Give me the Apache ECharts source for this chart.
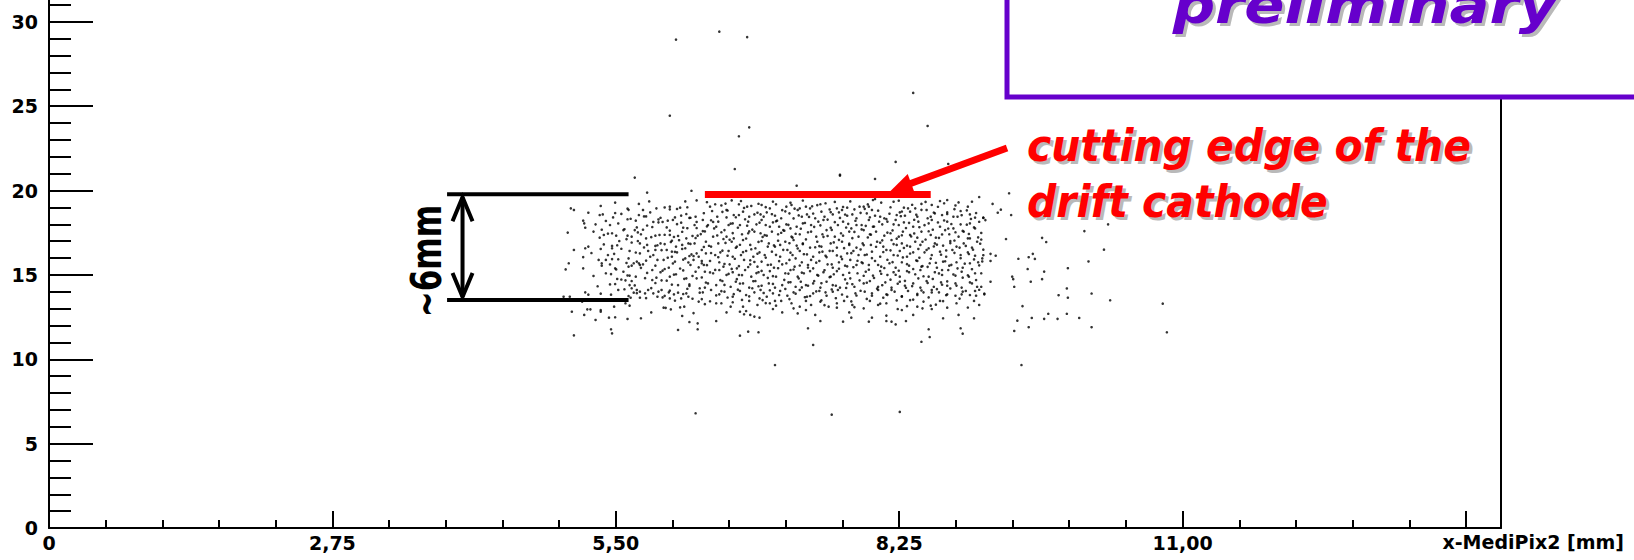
<!DOCTYPE html>
<html><head><meta charset="utf-8">
<script src="https://cdn.jsdelivr.net/npm/echarts@6/dist/echarts.min.js"></script>
<style>html,body{margin:0;padding:0;background:#fff}#c{width:1634px;height:560px}</style>
</head><body><div id="c"></div>
<script>
// x-MediPix2 [mm] , y [mm]
const clusterLeft = [[5.68,20.77],[6.23,19.99],[5.80,19.88],[5.82,19.36],[6.17,19.36],[6.28,19.42],[5.06,18.95],[5.09,18.85],[5.35,19.09],[5.49,19.29],[5.61,18.93],[5.72,19.21],[6.02,19.05],[6.02,18.89],[6.12,18.99],[6.19,19.01],[5.76,18.85],[5.89,18.95],
[5.23,18.69],[5.34,18.55],[5.37,18.59],[5.49,18.67],[5.72,18.55],[5.79,18.47],[5.91,18.29],[5.93,18.39],[6.07,18.41],[6.18,18.61],[6.27,18.45],
[5.18,18.22],[5.19,18.06],[5.30,18.00],[5.40,18.20],[5.47,18.41],[5.44,17.96],[5.61,18.30],[5.69,18.22],[5.86,18.14],[5.95,18.14],[6.00,18.22],[6.13,18.10],[6.21,18.38],[6.28,18.14],
[5.20,17.80],[5.36,17.68],[5.70,17.82],[5.68,17.66],[5.76,17.68],[5.99,17.82],[6.15,17.80],[6.28,17.78],
[5.03,17.51],[5.28,17.57],[5.34,17.21],[5.38,17.37],[5.46,17.47],[5.50,17.33],[5.57,17.66],[5.61,17.33],[5.65,17.27],[5.74,17.41],[5.79,17.17],[5.88,17.33],[5.92,17.37],[6.02,17.37],[6.06,17.25],[6.10,17.31],[6.18,17.17],[6.24,17.31],[6.29,17.33],
[5.53,17.01],[5.46,16.58],[5.46,16.72],[5.71,17.01],[5.73,16.87],[5.80,16.78],[5.88,16.72],[5.93,16.87],[5.97,16.83],[6.04,17.03],[6.08,16.68],[6.14,16.78],[6.20,16.87],[6.26,16.87],
[5.09,16.48],[5.20,16.58],[5.23,16.68],[5.26,16.30],[5.35,16.54],[5.42,16.18],[5.51,16.76],[5.63,16.42],[5.73,16.28],[5.81,16.42],[5.88,16.48],[5.99,16.48],[6.04,16.38],[6.09,16.34],[6.14,16.54],[6.21,16.12],[6.25,16.12],[6.28,16.28],
[5.18,16.06],[5.33,15.89],[5.36,15.69],[5.36,15.55],[5.40,15.89],[5.46,15.94],[5.62,15.98],[5.70,15.79],[5.72,15.69],[5.73,15.59],[5.76,15.63],[5.65,15.55],[5.83,16.08],[5.90,15.89],[5.96,15.89],[6.04,16.08],[6.07,15.79],[6.17,15.98],[6.25,15.89],[6.30,16.08],
[5.04,15.69],[5.01,15.33],[5.18,15.39],[5.49,15.39],[5.57,15.19],[5.62,15.49],[5.67,15.69],[5.85,15.29],[5.93,15.16],[5.97,15.35],[6.01,15.43],[6.08,15.04],[6.15,15.27],[6.22,15.59],[6.27,15.19],
[5.28,14.94],[5.40,15.10],[5.51,14.76],[5.63,14.96],[5.69,14.90],[5.65,14.64],[5.85,14.70],[5.89,14.84],[5.94,14.68],[6.02,14.90],[6.10,14.40],[6.18,14.80],[6.21,14.44],[6.28,14.80],
[5.32,14.33],[5.44,14.44],[5.59,14.68],[5.63,14.40],[5.65,14.21],[5.67,13.95],[5.70,14.11],[5.73,14.01],[5.78,13.91],[5.81,14.11],[5.86,13.91],[5.91,14.01],[5.94,14.11],[6.01,13.97],[6.06,13.85],[6.10,13.95],[6.18,13.91],[6.31,14.21],
[5.20,13.97],[5.23,13.83],[5.35,13.89],[5.52,14.11],[5.62,13.75],[5.64,13.65],[5.73,13.65],[5.90,13.71],[5.95,13.67],[6.02,13.61],[6.13,13.61],[6.20,13.71],[6.30,13.42],
[4.99,13.71],[5.05,13.71],[5.17,13.42],[5.59,13.32],
[5.07,12.82],[5.22,12.96],[5.25,12.96],[5.35,12.92],[5.35,12.82],[5.48,13.12],[5.84,12.78],[5.96,13.06],[6.03,12.96],[6.12,13.08],[6.16,13.12],
[5.19,12.63],[5.30,12.33],[5.43,12.47],[5.49,12.49],[5.61,12.39],[5.74,12.43],[6.14,12.57],[6.21,12.21],[6.25,12.74],[6.29,12.13],
[5.45,11.78],[5.46,11.54],[5.09,11.42],[6.10,11.74],[6.29,11.78]];

const clusterMid = [[7.25,20.29],[7.67,20.89],
[6.46,19.19],[6.56,19.23],[6.62,19.42],[6.69,19.19],[6.77,19.05],[6.81,19.09],[6.91,19.15],[6.99,18.95],[7.05,19.19],[7.15,19.05],[7.20,19.15],[7.28,18.95],[7.34,19.05],[7.38,18.95],[7.48,19.19],[7.53,19.25],[7.64,18.95],[7.69,18.85],[7.74,18.99],[7.81,18.89],[7.86,19.05],
[6.43,18.79],[6.48,18.45],[6.57,18.85],[6.64,18.55],[6.66,18.42],[6.73,18.75],[6.79,18.45],[6.84,18.59],[6.90,18.59],[6.96,18.71],[7.04,18.51],[7.10,18.36],[7.18,18.65],[7.26,18.85],[7.30,18.45],[7.35,18.59],[7.43,18.36],[7.49,18.75],[7.52,18.45],[7.60,18.59],[7.66,18.71],[7.74,18.51],[7.79,18.59],[7.83,18.36],
[6.34,18.26],[6.39,17.96],[6.47,17.86],[6.49,18.16],[6.59,17.96],[6.63,18.06],[6.70,17.96],[6.78,18.16],[6.86,18.00],[6.91,18.26],[6.95,17.96],[7.02,18.12],[7.08,17.86],[7.15,18.00],[7.19,17.76],[7.25,17.86],[7.31,18.06],[7.39,17.96],[7.46,18.16],[7.51,18.26],[7.58,17.80],[7.65,17.96],[7.70,18.16],[7.78,17.76],[7.83,17.96],
[6.34,17.60],[6.36,17.58],[6.45,17.76],[6.52,17.53],[6.57,17.27],[6.64,17.17],[6.72,17.41],[6.78,17.47],[6.84,17.57],[6.90,17.47],[6.96,17.33],[7.01,17.57],[7.07,17.41],[7.12,17.66],[7.20,17.27],[7.28,17.41],[7.36,17.53],[7.44,17.27],[7.50,17.41],[7.54,17.66],[7.62,17.27],[7.70,17.33],[7.76,17.57],[7.85,17.27],
[6.37,16.97],[6.42,16.68],[6.49,16.87],[6.54,17.13],[6.62,16.97],[6.67,16.68],[6.73,17.07],[6.80,16.78],[6.85,16.58],[6.91,17.01],[6.98,16.87],[7.04,16.68],[7.09,16.78],[7.14,16.97],[7.22,17.07],[7.25,16.74],[7.31,16.87],[7.38,16.62],[7.45,16.97],[7.49,16.68],[7.58,16.87],[7.64,16.62],[7.69,16.97],[7.76,16.78],[7.83,16.62],
[6.33,16.48],[6.37,16.28],[6.46,16.18],[6.51,16.34],[6.59,16.42],[6.63,16.08],[6.71,16.18],[6.76,16.42],[6.83,16.08],[6.89,16.34],[6.94,16.18],[7.01,16.38],[7.09,16.08],[7.16,16.48],[7.21,16.18],[7.28,16.42],[7.35,16.22],[7.41,16.08],[7.47,16.34],[7.53,16.14],[7.60,16.42],[7.68,16.08],[7.74,16.28],[7.80,16.42],[7.85,16.18],
[6.33,15.69],[6.35,15.59],[6.41,15.83],[6.50,15.75],[6.54,15.49],[6.60,15.63],[6.67,15.39],[6.74,15.89],[6.80,15.63],[6.87,15.49],[6.91,15.79],[6.97,15.59],[7.03,15.43],[7.11,15.63],[7.18,15.89],[7.23,15.49],[7.30,15.75],[7.36,15.59],[7.41,15.39],[7.47,15.83],[7.55,15.63],[7.60,15.43],[7.66,15.75],[7.72,15.55],[7.77,15.89],[7.83,15.59],
[6.36,15.19],[6.44,15.10],[6.50,15.29],[6.57,15.00],[6.63,15.16],[6.69,15.00],[6.75,15.29],[6.81,14.90],[6.88,15.16],[6.93,15.00],[6.99,15.23],[7.05,14.90],[7.14,15.10],[7.19,15.29],[7.26,14.90],[7.32,15.10],[7.38,15.23],[7.45,15.00],[7.51,15.16],[7.58,14.90],[7.64,15.23],[7.70,15.00],[7.77,14.80],[7.84,15.10],
[6.39,14.50],[6.47,14.40],[6.53,14.64],[6.61,14.30],[6.66,14.60],[6.73,14.50],[6.79,14.25],[6.85,14.64],[6.91,14.36],[6.98,14.50],[7.04,14.25],[7.11,14.40],[7.17,14.56],[7.24,14.30],[7.29,14.60],[7.36,14.36],[7.41,14.50],[7.48,14.25],[7.54,14.60],[7.60,14.40],[7.67,14.25],[7.74,14.50],[7.81,14.30],
[6.34,13.97],[6.42,14.11],[6.50,13.85],[6.55,14.01],[6.63,13.71],[6.70,14.05],[6.76,13.81],[6.84,13.97],[6.90,14.11],[6.96,13.71],[7.02,13.91],[7.09,14.05],[7.16,13.77],[7.22,13.97],[7.28,14.11],[7.35,13.71],[7.41,13.91],[7.47,14.05],[7.54,13.77],[7.60,14.01],[7.65,14.11],[7.74,13.71],[7.82,13.91],
[6.33,13.57],[6.47,13.32],[6.52,13.32],[6.63,13.38],[6.73,13.12],[6.79,13.46],[6.87,13.22],[6.92,13.51],[6.99,13.32],[7.05,13.18],[7.10,13.46],[7.20,13.32],[7.28,13.12],[7.34,13.46],[7.39,13.22],[7.48,13.42],[7.56,13.12],[7.64,13.32],[7.71,13.46],[7.79,13.22],
[6.57,12.78],[6.70,12.82],[6.74,12.67],[6.76,12.86],[6.80,12.63],[6.84,12.53],[6.89,12.47],[7.02,12.98],[7.11,12.78],[7.26,12.72],[7.34,12.92],[7.43,12.63],[7.48,12.27],[7.64,13.06],[7.70,12.23],[7.76,12.78],[7.78,12.47],
[6.47,12.27],[6.70,11.40],[6.78,11.64],[6.88,11.60],[7.36,11.84]];

const clusterRight = [[8.01,20.69],[9.02,19.62],[9.31,19.84],[9.15,19.21],[9.20,18.69],[9.23,18.87],[9.33,18.55],[9.28,17.13],[9.40,15.96],[9.18,16.14],[9.13,15.83],[9.34,14.90],[9.36,14.30],[9.39,12.29],[9.36,11.68],[8.53,11.78],[8.54,11.32],[8.46,11.04],[8.84,11.84],[8.86,11.52],
[7.99,19.44],[8.01,19.50],[8.19,19.34],[8.29,18.99],[8.40,18.95],[8.46,19.21],[8.56,19.15],[8.64,19.38],[8.71,19.44],[8.82,19.30],[8.91,19.05],[7.95,19.05],[7.90,19.05],
[7.93,18.65],[7.98,18.85],[8.06,18.45],[8.10,18.36],[8.22,18.55],[8.25,18.71],[8.30,18.51],[8.35,18.75],[8.42,18.45],[8.51,18.85],[8.55,18.45],[8.59,18.65],[8.66,18.55],[8.71,18.71],[8.77,18.45],[8.84,18.79],[8.93,18.59],[8.98,18.40],[9.06,18.40],
[7.88,17.96],[7.95,18.26],[7.99,17.86],[8.08,18.00],[8.13,18.16],[8.21,18.26],[8.24,17.96],[8.29,18.12],[8.38,17.86],[8.43,18.16],[8.53,18.06],[8.56,18.26],[8.64,17.86],[8.71,18.16],[8.77,17.76],[8.84,18.00],[8.93,18.06],[8.98,17.76],
[7.90,17.66],[7.96,17.41],[8.02,17.57],[8.10,17.33],[8.16,17.47],[8.24,17.27],[8.28,17.57],[8.35,17.37],[8.42,17.21],[8.46,17.57],[8.55,17.37],[8.60,17.21],[8.69,17.66],[8.73,17.41],[8.82,17.27],[8.87,17.57],[8.93,17.17],
[7.89,16.87],[7.97,16.78],[8.03,16.97],[8.09,16.68],[8.17,17.07],[8.22,16.78],[8.27,16.87],[8.35,16.68],[8.40,16.97],[8.45,16.78],[8.53,16.58],[8.59,16.87],[8.67,16.74],[8.74,17.01],[8.80,16.68],[8.87,16.87],[8.95,16.62],[9.00,16.97],
[7.91,16.18],[7.98,16.38],[8.06,16.08],[8.12,16.48],[8.19,16.18],[8.25,16.42],[8.32,16.08],[8.38,16.34],[8.44,16.02],[8.51,16.48],[8.56,16.18],[8.64,16.38],[8.70,16.08],[8.76,16.48],[8.84,16.18],[8.91,16.34],[8.98,16.14],[9.05,15.98],
[7.88,15.75],[7.95,15.59],[8.01,15.83],[8.07,15.49],[8.15,15.69],[8.21,15.43],[8.27,15.75],[8.34,15.55],[8.42,15.83],[8.46,15.49],[8.54,15.69],[8.61,15.43],[8.67,15.79],[8.73,15.55],[8.80,15.75],[8.86,15.43],[8.93,15.69],[9.01,15.75],
[7.92,15.19],[7.99,14.96],[8.06,15.23],[8.13,15.00],[8.19,15.16],[8.25,14.90],[8.32,15.23],[8.40,15.04],[8.45,15.29],[8.53,14.90],[8.59,15.16],[8.66,15.00],[8.72,15.29],[8.79,14.96],[8.85,15.19],[8.92,14.90],[8.98,15.10],
[7.90,14.50],[7.96,14.64],[8.04,14.30],[8.11,14.56],[8.17,14.25],[8.25,14.60],[8.30,14.36],[8.38,14.50],[8.45,14.25],[8.51,14.64],[8.58,14.30],[8.65,14.56],[8.71,14.36],[8.79,14.50],[8.85,14.25],[8.93,14.56],[9.00,14.30],
[7.91,14.01],[7.98,13.77],[8.04,14.11],[8.12,13.85],[8.20,14.01],[8.27,13.71],[8.33,14.05],[8.42,13.81],[8.48,13.97],[8.56,14.11],[8.63,13.97],[8.71,13.85],[8.79,13.77],[8.86,14.01],[8.93,13.81],[8.98,14.05],[9.07,13.85],
[7.90,13.02],[7.96,13.46],[8.04,13.22],[8.12,13.32],[8.23,12.98],[8.27,12.92],[8.35,13.51],[8.42,13.12],[8.48,13.42],[8.55,13.18],[8.64,13.46],[8.71,13.06],[8.80,13.32],[8.97,13.46],[9.02,13.22],
[7.95,12.23],[7.98,12.47],[8.12,12.59],[8.12,12.27],[8.17,12.23],[8.21,12.07],[8.31,12.27],[8.38,12.63],[8.47,13.02],[8.56,12.98],[8.67,12.43],[8.82,12.63],[8.97,12.43]];

const coreLayer = [
[6.38,19.31],[6.52,19.12],[6.71,19.38],[6.88,19.22],[7.02,19.35],[7.19,19.28],[7.31,19.41],[7.45,19.14],[7.62,19.33],[7.77,19.36],[7.94,19.18],[8.07,19.29],[8.24,19.40],[8.37,19.16],[8.50,19.33],[8.68,19.25],[8.79,19.12],[8.95,19.34],
[5.62,18.86],[5.97,19.00],[6.09,18.91],[6.41,19.05],[6.58,18.82],[6.74,18.97],[6.95,19.02],[7.11,18.84],[7.23,18.93],[7.40,19.07],[7.57,18.88],[7.70,19.03],[7.91,18.92],[8.04,18.81],[8.16,19.01],[8.33,18.95],[8.46,18.86],[8.62,19.04],[8.78,18.90],[8.90,18.83],
[5.55,18.62],[5.83,18.71],[6.13,18.52],[6.35,18.66],[6.53,18.74],[6.69,18.55],[6.87,18.69],[7.01,18.60],[7.14,18.77],[7.27,18.53],[7.41,18.64],[7.58,18.72],[7.72,18.58],[7.87,18.68],[8.01,18.51],[8.15,18.63],[8.27,18.76],[8.41,18.57],[8.58,18.70],[8.71,18.61],[8.85,18.54],[8.99,18.67],
[5.64,18.33],[5.77,18.47],[6.05,18.26],[6.22,18.39],[6.42,18.24],[6.57,18.41],[6.75,18.30],[6.93,18.46],[7.06,18.22],[7.22,18.35],[7.37,18.44],[7.55,18.28],[7.67,18.38],[7.82,18.21],[7.96,18.42],[8.12,18.31],[8.26,18.48],[8.39,18.27],[8.52,18.36],[8.68,18.23],[8.81,18.45],[8.94,18.32],[9.08,18.25],
[5.52,18.05],[5.80,17.93],[5.91,18.12],[6.09,18.01],[6.26,17.96],[6.44,18.14],[6.61,18.04],[6.77,17.92],[6.89,18.10],[7.05,18.18],[7.17,17.97],[7.33,18.08],[7.48,17.94],[7.62,18.13],[7.75,18.03],[7.92,17.91],[8.05,18.16],[8.19,18.00],[8.34,18.09],[8.49,17.95],[8.62,18.11],[8.75,18.02],[8.90,17.98],[9.02,18.15],
[5.58,17.71],[5.85,17.84],[6.02,17.63],[6.19,17.77],[6.38,17.88],[6.55,17.66],[6.68,17.80],[6.82,17.69],[6.99,17.86],[7.13,17.62],[7.29,17.74],[7.42,17.85],[7.59,17.67],[7.73,17.81],[7.88,17.70],[8.00,17.87],[8.18,17.64],[8.31,17.78],[8.44,17.83],[8.57,17.68],[8.72,17.75],[8.86,17.61],[8.97,17.82],
[5.42,17.45],[5.71,17.52],[5.97,17.38],[6.14,17.56],[6.32,17.42],[6.48,17.34],[6.63,17.48],[6.79,17.58],[6.94,17.36],[7.10,17.50],[7.24,17.44],[7.39,17.57],[7.55,17.31],[7.68,17.47],[7.81,17.55],[7.97,17.39],[8.13,17.51],[8.27,17.35],[8.39,17.46],[8.53,17.59],[8.66,17.40],[8.79,17.53],[8.92,17.43],[9.04,17.49],
[5.60,17.12],[5.84,17.24],[6.11,17.06],[6.27,17.19],[6.44,17.27],[6.60,17.09],[6.76,17.16],[6.92,17.25],[7.07,17.03],[7.21,17.21],[7.34,17.11],[7.51,17.26],[7.66,17.08],[7.79,17.18],[7.94,17.22],[8.08,17.05],[8.22,17.15],[8.36,17.28],[8.50,17.10],[8.63,17.20],[8.78,17.04],[8.91,17.17],[9.01,17.23],
[5.38,16.81],[5.65,16.92],[5.90,16.76],[6.03,16.95],[6.22,16.84],[6.40,16.73],[6.56,16.90],[6.70,16.79],[6.88,16.96],[7.03,16.75],[7.18,16.88],[7.31,16.82],[7.47,16.71],[7.61,16.93],[7.76,16.86],[7.90,16.77],[8.06,16.91],[8.19,16.83],[8.32,16.74],[8.47,16.97],[8.61,16.80],[8.74,16.89],[8.89,16.72],[9.03,16.85],
[5.55,16.55],[5.77,16.63],[5.94,16.47],[6.17,16.58],[6.35,16.66],[6.53,16.44],[6.66,16.61],[6.81,16.52],[6.97,16.68],[7.12,16.49],[7.26,16.57],[7.43,16.64],[7.57,16.43],[7.71,16.59],[7.87,16.51],[8.02,16.67],[8.16,16.46],[8.29,16.60],[8.43,16.54],[8.58,16.69],[8.70,16.45],[8.83,16.62],[8.96,16.50],
[5.48,16.25],[5.69,16.33],[5.86,16.18],[6.07,16.37],[6.23,16.22],[6.42,16.30],[6.58,16.14],[6.73,16.35],[6.87,16.26],[7.05,16.19],[7.19,16.32],[7.32,16.23],[7.50,16.38],[7.64,16.16],[7.78,16.29],[7.93,16.21],[8.09,16.36],[8.23,16.15],[8.35,16.27],[8.49,16.34],[8.65,16.20],[8.78,16.31],[8.92,16.24],[9.06,16.17],
[5.52,15.93],[5.79,15.85],[6.00,16.02],[6.15,15.91],[6.33,15.83],[6.49,16.05],[6.65,15.96],[6.80,15.87],[6.95,16.03],[7.08,15.82],[7.24,15.98],[7.39,15.89],[7.54,16.06],[7.69,15.94],[7.84,15.84],[7.98,16.00],[8.13,15.90],[8.28,16.04],[8.41,15.86],[8.55,15.97],[8.69,15.81],[8.84,15.99],[8.97,15.92],
[5.44,15.62],[5.60,15.71],[5.88,15.55],[6.05,15.68],[6.20,15.74],[6.38,15.58],[6.55,15.65],[6.69,15.52],[6.84,15.77],[7.00,15.61],[7.15,15.69],[7.28,15.56],[7.44,15.73],[7.59,15.63],[7.74,15.51],[7.89,15.70],[8.04,15.59],[8.18,15.76],[8.32,15.64],[8.47,15.53],[8.60,15.72],[8.75,15.60],[8.88,15.67],[9.02,15.57],
[5.50,15.33],[5.74,15.42],[5.95,15.26],[6.12,15.38],[6.30,15.45],[6.46,15.30],[6.62,15.36],[6.78,15.47],[6.91,15.24],[7.07,15.40],[7.22,15.32],[7.36,15.44],[7.52,15.28],[7.66,15.37],[7.80,15.46],[7.95,15.31],[8.10,15.41],[8.24,15.25],[8.38,15.35],[8.52,15.48],[8.66,15.29],[8.81,15.39],[8.95,15.34],
[5.45,15.05],[5.61,14.97],[5.80,15.12],[6.06,15.02],[6.24,14.94],[6.41,15.15],[6.59,15.06],[6.72,14.99],[6.86,15.11],[7.02,14.93],[7.17,15.08],[7.30,15.14],[7.46,14.96],[7.61,15.04],[7.76,15.13],[7.90,14.95],[8.07,15.07],[8.21,15.01],[8.34,15.16],[8.48,14.92],[8.63,15.09],[8.77,15.03],[8.91,14.98],[9.04,15.10],
[5.55,14.73],[5.78,14.81],[5.99,14.66],[6.16,14.77],[6.33,14.85],[6.51,14.69],[6.67,14.75],[6.83,14.63],[6.97,14.83],[7.13,14.71],[7.27,14.79],[7.42,14.64],[7.57,14.87],[7.72,14.74],[7.86,14.68],[8.00,14.82],[8.16,14.72],[8.30,14.65],[8.43,14.80],[8.57,14.76],[8.71,14.62],[8.86,14.84],[8.99,14.70],
[5.49,14.46],[5.68,14.38],[5.88,14.52],[6.04,14.43],[6.21,14.35],[6.37,14.55],[6.55,14.41],[6.70,14.49],[6.88,14.33],[7.02,14.47],[7.19,14.57],[7.34,14.40],[7.49,14.51],[7.63,14.36],[7.79,14.45],[7.93,14.54],[8.08,14.39],[8.23,14.48],[8.37,14.34],[8.52,14.53],[8.66,14.42],[8.80,14.37],[8.95,14.50],
[5.58,14.15],[5.84,14.22],[6.02,14.07],[6.19,14.18],[6.36,14.25],[6.52,14.04],[6.68,14.13],[6.82,14.21],[6.99,14.09],[7.14,14.17],[7.30,14.26],[7.44,14.03],[7.59,14.14],[7.73,14.23],[7.87,14.06],[8.03,14.19],[8.17,14.11],[8.31,14.24],[8.46,14.08],[8.61,14.16],[8.74,14.20],[8.89,14.05],[9.02,14.12],
[5.45,13.83],[5.70,13.92],[5.97,13.76],[6.15,13.87],[6.31,13.95],[6.47,13.79],[6.64,13.86],[6.79,13.73],[6.93,13.93],[7.08,13.81],[7.24,13.89],[7.38,13.75],[7.53,13.97],[7.69,13.84],[7.83,13.78],[7.98,13.91],[8.13,13.82],[8.27,13.74],[8.42,13.88],[8.56,13.96],[8.70,13.80],[8.85,13.85],[8.99,13.77],
[5.56,13.55],[5.79,13.63],[6.07,13.48],[6.24,13.59],[6.41,13.44],[6.58,13.66],[6.72,13.52],[6.89,13.61],[7.04,13.46],[7.18,13.57],[7.33,13.68],[7.49,13.50],[7.63,13.62],[7.78,13.43],[7.93,13.58],[8.09,13.65],[8.22,13.49],[8.38,13.54],[8.53,13.67],[8.67,13.45],[8.83,13.60],
[5.63,13.18],[5.98,13.05],[6.36,13.27],[6.61,13.12],[6.95,13.33],[7.22,13.02],[7.52,13.21],[7.81,13.09],[8.06,13.30],[8.32,13.15],[8.60,13.24],[8.91,13.07]];

const sparseRight = [[9.06,18.38],[9.81,18.60],[10.27,18.00],[10.04,17.60],[9.04,17.10],[9.63,17.20],[9.67,16.95],[10.23,16.50],[9.06,16.50],[9.13,16.25],[9.05,15.80],[9.50,16.05],[9.54,16.25],[9.56,15.95],[10.08,15.80],[9.49,15.35],[9.88,15.40],[9.65,15.20],[9.35,14.75],[9.63,14.75],[9.13,14.60],[9.52,14.60],[9.04,14.30],[9.07,13.90],[9.87,14.20],[9.79,13.80],[9.88,13.65],[10.11,13.90],[10.29,13.50],[10.80,13.30],[9.44,13.15],[9.69,12.70],[9.87,12.70],[9.53,12.45],[9.65,12.40],[9.78,12.40],[9.99,12.45],[9.50,11.90],[10.11,11.90],[10.84,11.60]];

const outliers = [[6.08,28.95],[6.50,29.42],[6.77,29.10],[8.38,25.79],[6.02,24.44],[6.79,23.75],[6.69,23.22],[8.52,23.83],[8.21,21.70],[8.72,21.58],[6.65,21.28],[7.67,20.94],
[6.27,6.80],[7.59,6.72],[8.25,6.88],[7.04,9.66],[9.43,9.66],[7.41,10.85]];

// axis ticks
const xTickStep = 2.75, xMax = 14.08, xTickMax = 13.75;
const yTickStep = 5, yMax = 35, yLabelMax = 30;

// annotations (data coordinates)
const cathodeEdge = {x: [6.36, 8.55], y: 19.77};
const bracket = {x: [3.86, 5.62], yTop: 19.78, yBottom: 13.52, arrowX: 4.01};
const pointerArrow = {from: [9.29, 22.52], to: [8.16, 19.98]};

const FONT = '"DejaVu Sans", "Liberation Sans", sans-serif';
const el = document.getElementById('c');
const chart = echarts.init(el, null, {renderer: 'svg'});

const axisBlack = {lineStyle: {color: '#000', width: 2}};
const gridTop = 528 - yMax * 16.87;
const labelStyle = {color: '#000', fontFamily: FONT, fontWeight: 'bold', fontSize: 19};

const mkSeries = (data) => ({
  type: 'scatter', xAxisIndex: 0, yAxisIndex: 0, data,
  symbol: 'circle', symbolSize: 2.6, silent: true,
  itemStyle: {color: '#000'}
});

chart.setOption({
  animation: false,
  backgroundColor: '#fff',
  grid: [
    {left: 49, right: 133, top: gridTop, bottom: 32, containLabel: false, outerBoundsMode: 'none'},
    {left: 49, right: 168, top: gridTop, bottom: 32, containLabel: false, outerBoundsMode: 'none'}
  ],
  xAxis: [
    {gridIndex: 0, type: 'value', min: 0, max: xMax, axisLine: {show: true, ...axisBlack, onZero: false},
     axisTick: {show: false}, axisLabel: {show: false}, splitLine: {show: false}},
    {gridIndex: 1, type: 'value', min: 0, max: xTickMax, interval: xTickStep,
     axisLine: {show: false, onZero: false},
     axisTick: {show: true, inside: true, length: 17, lineStyle: {color: '#000', width: 2}},
     minorTick: {show: true, splitNumber: 5, length: 8, lineStyle: {color: '#000', width: 2}},
     splitLine: {show: false},
     axisLabel: {...labelStyle, margin: 5, showMaxLabel: true,
       formatter: v => v === 0 ? '0' : (v > 13 ? '' : v.toFixed(2).replace('.', ','))}}
  ],
  yAxis: [
    {gridIndex: 0, type: 'value', min: 0, max: yMax, interval: yTickStep,
     axisLine: {show: true, ...axisBlack, onZero: false},
     axisTick: {show: true, inside: true, length: 44, lineStyle: {color: '#000', width: 2}},
     minorTick: {show: true, splitNumber: 5, length: 22, lineStyle: {color: '#000', width: 2}},
     splitLine: {show: false},
     axisLabel: {...labelStyle, margin: 11, formatter: v => v > yLabelMax ? '' : String(v)}},
    {gridIndex: 0, type: 'value', position: 'right', min: 0, max: yMax,
     axisLine: {show: true, ...axisBlack, onZero: false}, axisTick: {show: false},
     axisLabel: {show: false}, splitLine: {show: false}},
    {gridIndex: 1, type: 'value', min: 0, max: yMax, show: false}
  ],
  series: [mkSeries(clusterLeft), mkSeries(clusterMid), mkSeries(clusterRight), mkSeries(coreLayer), mkSeries(sparseRight), mkSeries(outliers)]
});

const P = (x, y) => chart.convertToPixel({gridIndex: 0}, [x, y]);
const G = [];
const line = (a, b, color, w) => G.push({type: 'line', z: 50, shape: {x1: a[0], y1: a[1], x2: b[0], y2: b[1]}, style: {stroke: color, lineWidth: w}});

// black bracket with double arrow
const bt1 = P(bracket.x[0], bracket.yTop), bt2 = P(bracket.x[1], bracket.yTop);
const bb1 = P(bracket.x[0], bracket.yBottom), bb2 = P(bracket.x[1], bracket.yBottom);
line(bt1, bt2, '#000', 4); line(bb1, bb2, '#000', 4);
const at = P(bracket.arrowX, bracket.yTop), ab = P(bracket.arrowX, bracket.yBottom);
line([at[0], at[1] + 3], [ab[0], ab[1] - 3], '#000', 4);
G.push({type: 'polyline', z: 50, shape: {points: [[at[0] - 10, at[1] + 27], [at[0], at[1] + 3], [at[0] + 10, at[1] + 27]]}, style: {stroke: '#000', lineWidth: 4, fill: null}});
G.push({type: 'polyline', z: 50, shape: {points: [[ab[0] - 10, ab[1] - 27], [ab[0], ab[1] - 3], [ab[0] + 10, ab[1] - 27]]}, style: {stroke: '#000', lineWidth: 4, fill: null}});
G.push({type: 'text', z: 50, x: 427, y: (at[1] + ab[1]) / 2 + 14, rotation: Math.PI / 2, scaleX: 0.74,
  style: {text: '~6mm', fill: '#000', fontFamily: FONT, fontWeight: 'bold', fontSize: 42, align: 'center', verticalAlign: 'middle'}});

// red cutting edge line + pointer arrow
line(P(cathodeEdge.x[0], cathodeEdge.y), P(cathodeEdge.x[1], cathodeEdge.y), '#ff0000', 7);
const s = P(...pointerArrow.from), t = P(...pointerArrow.to);
const dx = t[0] - s[0], dy = t[1] - s[1], len = Math.hypot(dx, dy), ux = dx / len, uy = dy / len;
const L = 22, W = 10, base = [t[0] - ux * L, t[1] - uy * L];
line(s, [base[0] + ux * 2, base[1] + uy * 2], '#ff0000', 7);
G.push({type: 'polygon', z: 50, shape: {points: [t, [base[0] - uy * W, base[1] + ux * W], [base[0] + uy * W, base[1] - ux * W]]}, style: {fill: '#ff0000'}});

// red label with grey shadow
const redText = (txt, x, y) => {
  [['#b9b9b9', 3], ['#ff0000', 0]].forEach(([c, o]) => G.push({type: 'text', z: 50, x: x + o, y: y + o, scaleX: 0.93,
    style: {text: txt, fill: c, fontFamily: FONT, fontWeight: 'bold', fontStyle: 'italic', fontSize: 44, align: 'left', verticalAlign: 'middle'}}));
};
redText('cutting edge of the', 1027, 146);
redText('drift cathode', 1027, 202);

// preliminary box
G.push({type: 'rect', z: 60, shape: {x: 1007, y: -20, width: 800, height: 117}, style: {fill: '#fff', stroke: '#6600cc', lineWidth: 5}});
[['#b9b9b9', 3], ['#6600cc', 0]].forEach(([c, o]) => G.push({type: 'text', z: 61, x: 1365 + o, y: 5 + o, scaleX: 1.14,
  style: {text: 'preliminary', fill: c, fontFamily: FONT, fontWeight: 'bold', fontStyle: 'italic', fontSize: 52, align: 'center', verticalAlign: 'middle'}}));

// x axis title
G.push({type: 'text', z: 50, x: 1624, y: 542, style: {text: 'x-MediPix2 [mm]', fill: '#000', fontFamily: FONT, fontWeight: 'bold', fontSize: 19, align: 'right', verticalAlign: 'middle'}});

chart.setOption({graphic: {elements: G}});
</script></body></html>
